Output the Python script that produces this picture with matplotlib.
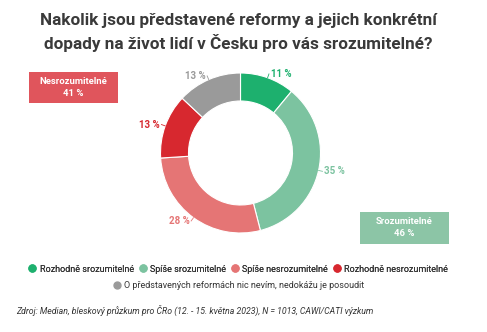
import numpy as np
import matplotlib
matplotlib.use("Agg")
import matplotlib.pyplot as plt
from matplotlib.lines import Line2D
from matplotlib.patches import Rectangle

plt.rcParams['font.family'] = ['Roboto', 'DejaVu Sans']

title = "Nakolik jsou představené reformy a jejich konkrétní\ndopady na život lidí v Česku pro vás srozumitelné?"
categories = ["Rozhodně srozumitelné", "Spíše srozumitelné", "Spíše nesrozumitelné",
              "Rozhodně nesrozumitelné", "O představených reformách nic nevím, nedokážu je posoudit"]
values = [11, 35, 28, 13, 13]
colors = ["#1db06e", "#7cc3a0", "#e57575", "#d7282f", "#9a9a9a"]
group_labels = ["Nesrozumitelné", "Srozumitelné"]
group_values = [41, 46]
group_colors = ["#e0555c", "#8cc5a6"]
source = "Zdroj: Median, bleskový průzkum pro ČRo (12. - 15. května 2023), N = 1013, CAWI/CATI výzkum"

W, H = 487, 332
fig = plt.figure(figsize=(W / 100, H / 100), dpi=100)
fig.patch.set_facecolor("white")

def px(x, y):
    return x / W, 1 - y / H

# donut axes: center (240,153), radius 80 px
cx, cy, R = 240.5, 153, 80
ax = fig.add_axes([(cx - R) / W, 1 - (cy + R) / H, 2 * R / W, 2 * R / H])
wedges, _ = ax.pie(values, colors=colors, startangle=90, counterclock=False, radius=1.0,
                   wedgeprops=dict(width=0.35, edgecolor="white", linewidth=0.8))
ax.set_xlim(-1, 1)
ax.set_ylim(-1, 1)
ax.set_aspect("equal")
ax.axis("off")

for w, v, c in zip(wedges, values, colors):
    ang = np.deg2rad((w.theta1 + w.theta2) / 2)
    ca, sa = np.cos(ang), np.sin(ang)
    x0, y0 = 1.0 * ca, 1.0 * sa
    x1, y1 = 1.05 * ca, 1.05 * sa
    ax.plot([x0, x1], [y0, y1], color=c, lw=0.6, clip_on=False)
    ha = "left" if ca > 0 else "right"
    ax.text(x1 + (0.02 if ca > 0 else -0.02), y1, f"{v} %", color=c, fontsize=7,
            fontweight="bold", ha=ha, va="center", clip_on=False)

fig.text(*px(238, 33), title, ha="center", va="center", fontsize=12.3,
         fontweight="bold", color="#3a3a3a", linespacing=1.4)

# group boxes
boxes = [(29, 72, 89, 31), (360, 212, 89, 32)]
for (bx, by, bw, bh), lab, val, col in zip(boxes, group_labels, group_values, group_colors):
    fig.patches.append(Rectangle(px(bx, by + bh), bw / W, bh / H, transform=fig.transFigure,
                                 facecolor=col, edgecolor="none"))
    fig.text(*px(bx + bw / 2, by + 9), lab, ha="center", va="center", fontsize=6.8,
             fontweight="bold", color="white")
    fig.text(*px(bx + bw / 2, by + 22), f"{val} %", ha="center", va="center", fontsize=6.8,
             fontweight="bold", color="white")

handles = [Line2D([0], [0], marker="o", color="none", markerfacecolor=c, markeredgecolor=c,
                  markersize=5) for c in colors]
leg1 = fig.legend(handles[:4], categories[:4], loc="center", bbox_to_anchor=px(238, 269),
                  ncol=4, frameon=False, fontsize=6.5, handletextpad=0.3, columnspacing=0.5,
                  handlelength=1.0, labelcolor="#333333")
leg2 = fig.legend(handles[4:], categories[4:], loc="center", bbox_to_anchor=px(238, 286),
                  ncol=1, frameon=False, fontsize=6.5, handletextpad=0.3, handlelength=1.0,
                  labelcolor="#333333")
fig.add_artist(leg1)

fig.text(*px(16, 310), source, ha="left", va="center", fontsize=6.3, style="italic",
         color="#333333")

fig.savefig("out.png", dpi=100, facecolor="white")
